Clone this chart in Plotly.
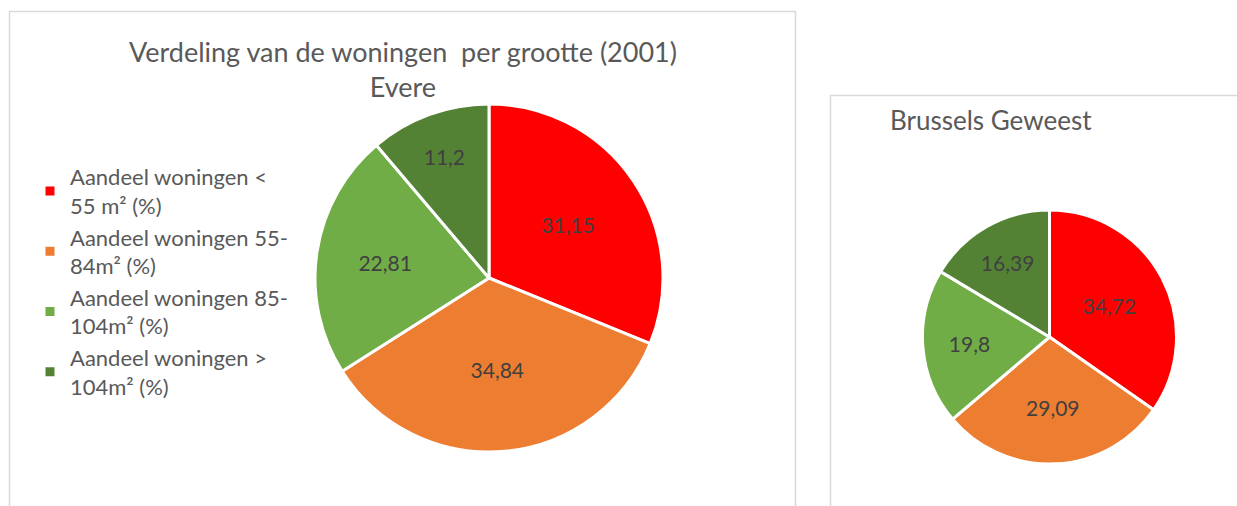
import plotly.graph_objects as go

categories = [
    "Aandeel woningen <<br>55 m² (%)",
    "Aandeel woningen 55-<br>84m² (%)",
    "Aandeel woningen 85-<br>104m² (%)",
    "Aandeel woningen ><br>104m² (%)",
]
evere_values = [31.15, 34.84, 22.81, 11.2]
brussel_values = [34.72, 29.09, 19.8, 16.39]
colors = ["#FF0000", "#ED7D31", "#70AD47", "#548235"]

title_left = "Verdeling van de woningen  per grootte (2001)<br>Evere"
title_right = "Brussels Geweest"

W, H = 1237, 506
FONT = "Lato, 'Open Sans', sans-serif"


def fmt(v):
    return f"{v:g}".replace(".", ",")


def px_x(a, b):
    return [a / W, b / W]


def px_y(top, bottom):
    return [1 - bottom / H, 1 - top / H]


fig = go.Figure()
fig.add_trace(go.Pie(
    labels=categories, values=evere_values, text=[fmt(v) for v in evere_values],
    textinfo="text", textposition="inside", insidetextorientation="horizontal",
    sort=False, direction="clockwise", rotation=0,
    marker=dict(colors=colors, line=dict(color="white", width=3)),
    textfont=dict(color="#404040", size=21, family=FONT),
    domain=dict(x=px_x(315, 663), y=px_y(104, 452)),
    hoverinfo="label+value", showlegend=True,
))
fig.add_trace(go.Pie(
    labels=categories, values=brussel_values, text=[fmt(v) for v in brussel_values],
    textinfo="text", textposition="inside", insidetextorientation="horizontal",
    sort=False, direction="clockwise", rotation=0,
    marker=dict(colors=colors, line=dict(color="white", width=3)),
    textfont=dict(color="#404040", size=21, family=FONT),
    domain=dict(x=px_x(922, 1177), y=px_y(210, 464)),
    hoverinfo="label+value", showlegend=False,
))

shapes = [
    dict(type="rect", xref="paper", yref="paper", x0=9.5 / W, x1=795.5 / W,
         y0=-0.05, y1=1 - 11.5 / H, line=dict(color="#D9D9D9", width=1.5)),
    dict(type="rect", xref="paper", yref="paper", x0=830.5 / W, x1=1.05,
         y0=-0.05, y1=1 - 95.5 / H, line=dict(color="#D9D9D9", width=1.5)),
]

annotations = [
    dict(text=title_left, x=403 / W, y=1 - 33 / H, xref="paper", yref="paper",
         xanchor="center", yanchor="top", showarrow=False, align="center",
         font=dict(size=27, color="#595959", family=FONT)),
    dict(text=title_right, x=888 / W, y=1 - 102 / H, xref="paper", yref="paper",
         xanchor="left", yanchor="top", showarrow=False,
         font=dict(size=26, color="#595959", family=FONT)),
]

fig.update_layout(
    width=W, height=H,
    margin=dict(l=0, r=0, t=0, b=0),
    paper_bgcolor="white", plot_bgcolor="white",
    font=dict(family=FONT, color="#595959"),
    shapes=shapes, annotations=annotations,
    legend=dict(x=30 / W, y=1 - 156 / H, xanchor="left", yanchor="top",
                font=dict(size=22, color="#595959", family=FONT),
                itemwidth=30, bgcolor="rgba(0,0,0,0)"),
)

fig.write_html("out.html", post_script="document.body.style.margin='0';",
               config={"displayModeBar": False})
